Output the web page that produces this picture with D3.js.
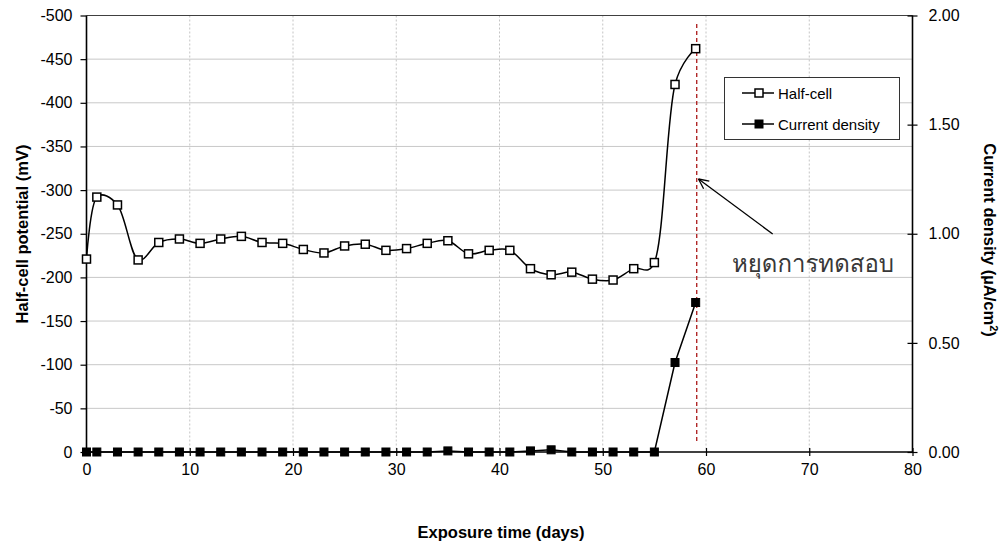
<!DOCTYPE html>
<html>
<head>
<meta charset="utf-8">
<script src="https://cdn.jsdelivr.net/npm/d3@7"></script>
<style>
  html, body { margin: 0; padding: 0; background: #fff; }
  svg { display: block; font-family: "Liberation Sans", Arial, sans-serif; }
</style>
</head>
<body>
<svg id="chart" width="1005" height="545"></svg>
<script>
// Exposure days at which readings were taken
const days = [0, 1, 3, 5, 7, 9, 11, 13, 15, 17, 19, 21, 23, 25, 27, 29, 31, 33, 35, 37, 39, 41, 43, 45, 47, 49, 51, 53, 55, 57, 59];
// Half-cell potential (mV)
const halfCell = [-221, -292, -283, -220, -240, -244, -239, -244, -247, -240, -239, -232, -228, -236, -238, -231, -233, -239, -242, -227, -231, -231, -210, -203, -206, -198, -197, -210, -217, -421, -462];
// Current density (µA/cm²)
const currentDensity = [0, 0, 0, 0, 0, 0, 0, 0, 0, 0, 0, 0, 0, 0, 0, 0, 0, 0, 0.005, 0, 0, 0, 0.005, 0.01, 0, 0, 0, 0, 0, 0.41, 0.685];
// Axis ticks
const xTicks = [0, 10, 20, 30, 40, 50, 60, 70, 80];
const leftTicks = [0, -50, -100, -150, -200, -250, -300, -350, -400, -450, -500];
const rightTicks = [0, 0.5, 1.0, 1.5, 2.0];
// Test stop day
const stopDay = 59.1;
const stopLabel = "หยุดการทดสอบ";
const legendLabels = ["Half-cell", "Current density"];

const svg = d3.select("#chart");
const L = 86.5, R = 912.5, T = 15.5, B = 452;

const x = d3.scaleLinear().domain([0, 80]).range([L, R]);
const yL = d3.scaleLinear().domain([0, -500]).range([B, T]);
const yR = d3.scaleLinear().domain([0, 2]).range([B, T]);

// Gridlines
svg.append("g").selectAll("line").data(leftTicks.slice(1, -1)).join("line")
  .attr("x1", L).attr("x2", R)
  .attr("y1", d => yL(d)).attr("y2", d => yL(d))
  .attr("stroke", "#c8c8c8").attr("stroke-width", 1);
svg.append("g").selectAll("line").data(xTicks.slice(1, -1)).join("line")
  .attr("x1", d => x(d)).attr("x2", d => x(d))
  .attr("y1", T).attr("y2", B)
  .attr("stroke", "#c4c4c4").attr("stroke-width", 1).attr("stroke-dasharray", "2,2");

// Plot frame top
svg.append("line").attr("x1", L).attr("x2", R).attr("y1", T).attr("y2", T)
  .attr("stroke", "#404040").attr("stroke-width", 1.2);

// Axes
const tickFont = "16px";
const gx = svg.append("g").attr("transform", `translate(0,${B})`)
  .call(d3.axisBottom(x).tickValues(xTicks).tickSize(4).tickPadding(8));
gx.selectAll(".tick line").attr("y1", -4).attr("y2", 4);
const gl = svg.append("g").attr("transform", `translate(${L},0)`)
  .call(d3.axisLeft(yL).tickValues(leftTicks).tickFormat(d => String(d)).tickSize(6).tickPadding(8));
const gr = svg.append("g").attr("transform", `translate(${R},0)`)
  .call(d3.axisRight(yR).tickValues(rightTicks).tickFormat(d => d.toFixed(2)).tickSize(5).tickPadding(11));
gr.selectAll(".tick line").attr("x1", -5).attr("x2", 5);
[gx, gl, gr].forEach(g => {
  g.select(".domain").attr("stroke", "#000").attr("stroke-width", 1.6);
  g.selectAll(".tick line").attr("stroke", "#000").attr("stroke-width", 1.2);
  g.selectAll(".tick text").attr("fill", "#000").style("font-size", tickFont)
    .style("font-family", "'Liberation Sans', Arial, sans-serif");
});
gx.select(".domain").attr("d", `M${L},0H${R}`);
gl.select(".domain").attr("d", `M0,${B}V${T}`);
gr.select(".domain").attr("d", `M0,${B}V${T}`);

// Axis titles
svg.append("text").attr("x", 501).attr("y", 538).attr("text-anchor", "middle")
  .style("font-size", "16.5px").style("font-weight", "bold").text("Exposure time (days)");
svg.append("text").attr("transform", `translate(28,234) rotate(-90)`).attr("text-anchor", "middle")
  .style("font-size", "16.5px").style("font-weight", "bold").text("Half-cell potential (mV)");
const rt = svg.append("text").attr("transform", `translate(984,240) rotate(90)`).attr("text-anchor", "middle")
  .style("font-size", "16.5px").style("font-weight", "bold");
rt.append("tspan").text("Current density (µA/cm");
rt.append("tspan").attr("dy", -6).style("font-size", "11px").text("2");
rt.append("tspan").attr("dy", 6).text(")");

// Stop line
svg.append("line").attr("x1", x(stopDay)).attr("x2", x(stopDay)).attr("y1", 24).attr("y2", 443)
  .attr("stroke", "#b02828").attr("stroke-width", 1.4).attr("stroke-dasharray", "4,3");

// Series
const hcData = days.map((d, i) => [d, halfCell[i]]);
const cdData = days.map((d, i) => [d, currentDensity[i]]);
svg.append("path").datum(hcData)
  .attr("d", d3.line().x(d => x(d[0])).y(d => yL(d[1])).curve(d3.curveCatmullRom.alpha(0.25)))
  .attr("fill", "none").attr("stroke", "#000").attr("stroke-width", 1.5);
svg.append("path").datum(cdData)
  .attr("d", d3.line().x(d => x(d[0])).y(d => yR(d[1])))
  .attr("fill", "none").attr("stroke", "#000").attr("stroke-width", 1.5);

const ms = 8;
svg.append("g").selectAll("rect").data(cdData).join("rect")
  .attr("x", d => x(d[0]) - ms / 2).attr("y", d => yR(d[1]) - ms / 2)
  .attr("width", ms).attr("height", ms).attr("fill", "#000").attr("stroke", "#000").attr("stroke-width", 1);
svg.append("g").selectAll("rect").data(hcData).join("rect")
  .attr("x", d => x(d[0]) - ms / 2).attr("y", d => yL(d[1]) - ms / 2)
  .attr("width", ms).attr("height", ms).attr("fill", "#fff").attr("stroke", "#000").attr("stroke-width", 1.5);

// Legend
const lg = svg.append("g");
lg.append("rect").attr("x", 724.5).attr("y", 77.5).attr("width", 175).attr("height", 62)
  .attr("fill", "#fff").attr("stroke", "#333").attr("stroke-width", 1);
legendLabels.forEach((t, i) => {
  const yy = 93 + i * 31;
  lg.append("line").attr("x1", 742).attr("x2", 774).attr("y1", yy).attr("y2", yy)
    .attr("stroke", "#000").attr("stroke-width", 1.5);
  lg.append("rect").attr("x", 759 - ms / 2).attr("y", yy - ms / 2).attr("width", ms).attr("height", ms)
    .attr("fill", i === 0 ? "#fff" : "#000").attr("stroke", "#000").attr("stroke-width", i === 0 ? 1.5 : 1);
  lg.append("text").attr("x", 778).attr("y", yy + 5.5).style("font-size", "15px").text(t);
});

// Annotation arrow and label
const ax1 = 772.7, ay1 = 234, ax2 = 698.5, ay2 = 179;
svg.append("line").attr("x1", ax1).attr("y1", ay1).attr("x2", ax2).attr("y2", ay2)
  .attr("stroke", "#000").attr("stroke-width", 1.3);
const ang = Math.atan2(ay1 - ay2, ax1 - ax2);
[0.45, -0.45].forEach(da => {
  svg.append("line").attr("x1", ax2).attr("y1", ay2)
    .attr("x2", ax2 + 11 * Math.cos(ang + da)).attr("y2", ay2 + 11 * Math.sin(ang + da))
    .attr("stroke", "#000").attr("stroke-width", 1.3);
});
svg.append("text").attr("x", 813).attr("y", 272).attr("text-anchor", "middle")
  .style("font-family", "'Angsana New', Norasi, Kinnari, Garuda, Loma, 'Noto Serif Thai', 'Noto Sans Thai', 'DejaVu Sans', sans-serif")
  .style("font-size", "24px").attr("fill", "#383838").text(stopLabel);
</script>
</body>
</html>
